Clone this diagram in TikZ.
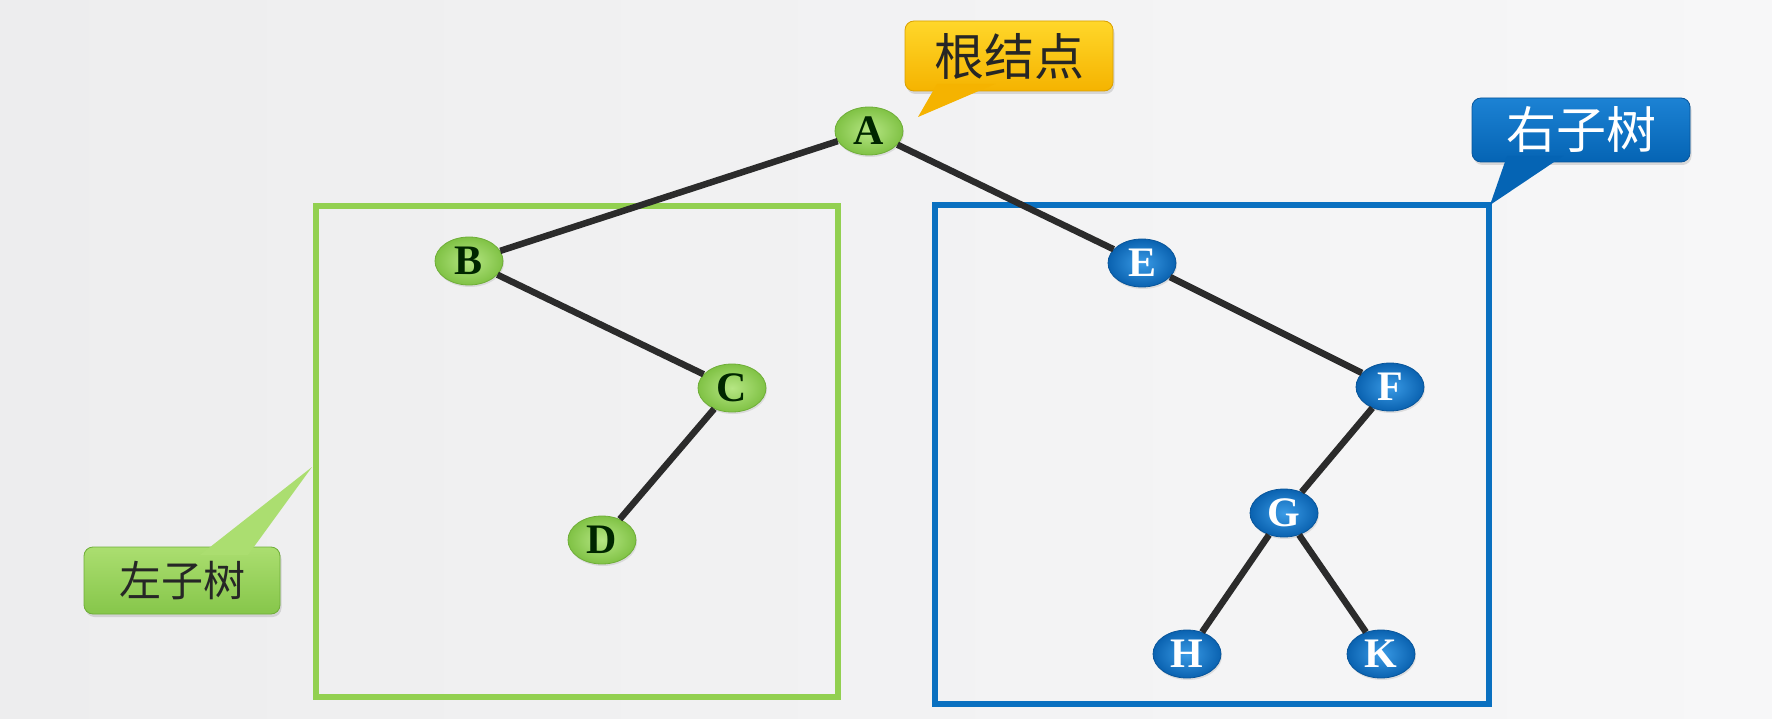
\documentclass[tikz,border=0pt]{standalone}
\usepackage{fontspec}
\setmainfont{Liberation Serif}
\newfontfamily\cjk{Noto Sans CJK SC}
\usetikzlibrary{shapes.geometric,shadows}
\definecolor{bgl}{HTML}{EDEDEE}
\definecolor{bgr}{HTML}{F7F7F8}
\definecolor{edgec}{HTML}{2B2B2B}
\definecolor{gframe}{HTML}{92D050}
\definecolor{bframe}{HTML}{0A70C0}
\definecolor{gtop}{HTML}{B6E684}
\definecolor{gbot}{HTML}{80C245}
\definecolor{gdark}{HTML}{6FAE38}
\definecolor{btop}{HTML}{3A9BE6}
\definecolor{bbot}{HTML}{0A62B0}
\definecolor{bdark}{HTML}{08559A}
\definecolor{ytop}{HTML}{FFD72A}
\definecolor{ybot}{HTML}{F5B300}
\definecolor{ydark}{HTML}{D9A000}
\definecolor{cgtop}{HTML}{ABDE70}
\definecolor{cgbot}{HTML}{86C64A}
\definecolor{cbtop}{HTML}{1C82D4}
\definecolor{cbbot}{HTML}{0564B4}
\begin{document}
\begin{tikzpicture}[x=1pt,y=-1pt,
  frame/.style={draw, line width=5.5pt, fill=none, inner sep=0pt},
  treenode/.style={ellipse, inner sep=0pt, minimum width=68pt, minimum height=48pt,
    font=\bfseries\fontsize{42}{42}\selectfont, line width=0.8pt,
    drop shadow={opacity=0.2, shadow xshift=1pt, shadow yshift=-2pt}},
  gnode/.style={treenode, draw=gdark, inner color=gtop, outer color=gbot, text=black!85!green},
  bnode/.style={treenode, draw=bdark, inner color=btop, outer color=bbot, text=white},
  link/.style={draw=edgec, line width=6.5pt},
  callout/.style={rectangle, rounded corners=9pt, inner sep=0pt, line width=0.8pt,
    drop shadow={opacity=0.25, shadow xshift=1.5pt, shadow yshift=-3pt}},
  ycall/.style={callout, draw=ydark, top color=ytop, bottom color=ybot, text=black!85,
    font=\cjk\fontsize{50}{50}\selectfont, minimum width=208pt, minimum height=70pt},
  gcall/.style={callout, draw=gdark, top color=cgtop, bottom color=cgbot, text=black!85,
    font=\cjk\fontsize{42}{42}\selectfont, minimum width=196pt, minimum height=67pt},
  bcall/.style={callout, draw=bdark, top color=cbtop, bottom color=cbbot, text=white,
    font=\cjk\fontsize{50}{50}\selectfont, minimum width=218pt, minimum height=64pt}
]
\shade[left color=bgl, right color=bgr] (0,0) rectangle (1772,719);
\useasboundingbox (0,0) rectangle (1772,719);

% subtree frames
\node[frame, draw=gframe, minimum width=522pt, minimum height=491pt] (lbox) at (577,451.5) {};
\node[frame, draw=bframe, minimum width=554pt, minimum height=499pt] (rbox) at (1212,454.5) {};

% tree nodes
\node[gnode] (A) at (869,131) {A};
\node[gnode] (B) at (469,261) {B};
\node[gnode] (C) at (732,388) {C};
\node[gnode] (D) at (602,540) {D};
\node[bnode] (E) at (1142,263) {E};
\node[bnode] (F) at (1390,387) {F};
\node[bnode] (G) at (1284,513) {G};
\node[bnode] (H) at (1187,654) {H};
\node[bnode] (K) at (1381,654) {K};

% edges
\draw[link] (A) -- (B);
\draw[link] (B) -- (C);
\draw[link] (C) -- (D);
\draw[link] (A) -- (E);
\draw[link] (E) -- (F);
\draw[link] (F) -- (G);
\draw[link] (G) -- (H);
\draw[link] (G) -- (K);

% callout pointers
\coordinate (roottip) at (918,117);
\coordinate (rootb1) at (937,84);
\coordinate (rootb2) at (995,84);
\coordinate (ltip) at (312,467);
\coordinate (lb1) at (200,555);
\coordinate (lb2) at (248,555);
\coordinate (rtip) at (1490,205);
\coordinate (rb1) at (1507,156);
\coordinate (rb2) at (1563,156);

% callouts
\node[ycall] (root) at (1009,56) {根结点};
\node[gcall] (lsub) at (182,580.5) {左子树};
\node[bcall] (rsub) at (1581,130) {右子树};
\fill[ybot] (rootb1) -- (roottip) -- (rootb2) -- cycle;
\fill[cgtop] (lb1) -- (ltip) -- (lb2) -- cycle;
\fill[cbbot] (rb1) -- (rtip) -- (rb2) -- cycle;
\end{tikzpicture}
\end{document}
